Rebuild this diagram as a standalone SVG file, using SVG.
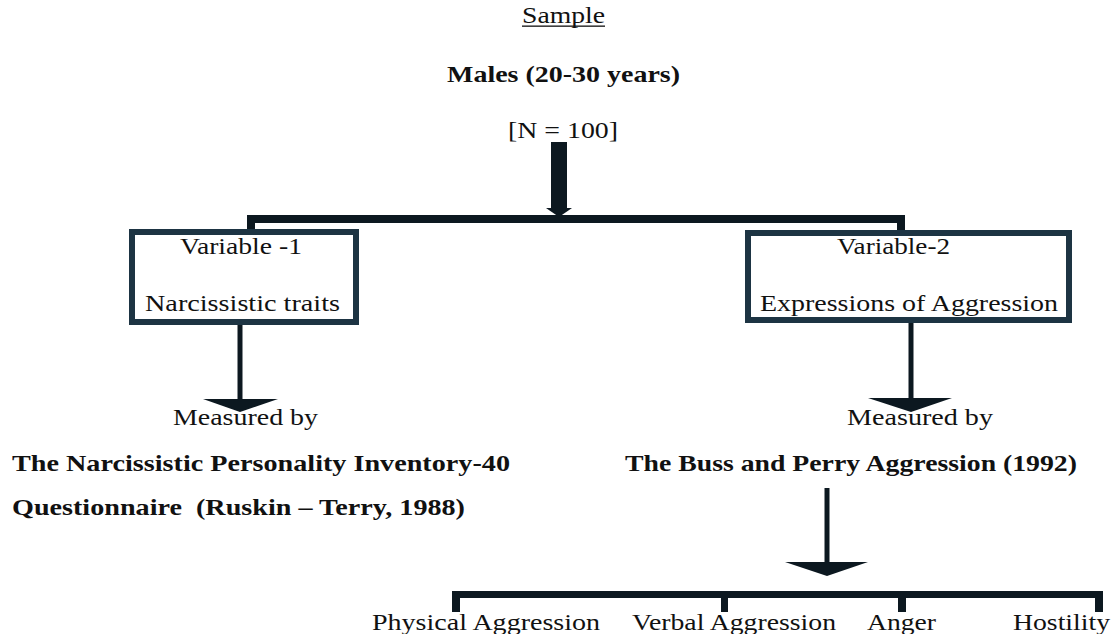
<svg xmlns="http://www.w3.org/2000/svg" width="1118" height="634" viewBox="0 0 1118 634">
  <defs>
    <style>
      text { font-family: 'Liberation Serif', 'Times New Roman', serif; font-size: 24px; fill: #111111; }
      .b { font-weight: bold; font-size: 23px; }
      .box { fill: #ffffff; stroke: #1d3443; stroke-width: 6; }
      .bar { fill: #0c1820; }
      .ln { stroke: #0c1820; stroke-width: 5; fill: none; }
      .head { fill: #0c1820; }
    </style>
  </defs>
  <rect x="0" y="0" width="1118" height="634" fill="#ffffff"/>

  <g id="sample">
    <text x="522" y="23" textLength="83" lengthAdjust="spacingAndGlyphs">Sample</text>
    <rect x="522" y="25.5" width="83" height="1.3" fill="#111111"/>
    <text class="b" x="447" y="82" textLength="233" lengthAdjust="spacingAndGlyphs">Males (20-30 years)</text>
    <text x="508" y="138" textLength="110" lengthAdjust="spacingAndGlyphs">[N = 100]</text>
  </g>

  <g id="connectors">
    <rect class="bar" x="551" y="142" width="16" height="67"/>
    <polygon class="head" points="546,208 572,208 559,217"/>
    <rect class="bar" x="247" y="215" width="658" height="8"/>
    <rect class="bar" x="247" y="215" width="8" height="16"/>
    <rect class="bar" x="897" y="215" width="8" height="16"/>
    <line class="ln" x1="240" y1="325" x2="240" y2="401"/>
    <polygon class="head" points="203,399 278,399 240,412"/>
    <line class="ln" x1="911" y1="323" x2="911" y2="400"/>
    <polygon class="head" points="868,398 952,398 911,412"/>
    <line class="ln" x1="827" y1="488" x2="827" y2="564"/>
    <polygon class="head" points="785,562 868,562 827,576"/>
    <rect class="bar" x="452" y="591" width="651" height="7"/>
    <rect class="bar" x="452" y="591" width="8" height="21"/>
    <rect class="bar" x="721" y="591" width="7" height="21"/>
    <rect class="bar" x="898" y="591" width="8" height="21"/>
    <rect class="bar" x="1095" y="591" width="8" height="21"/>
  </g>

  <g id="variable1">
    <rect class="box" x="132" y="232" width="224" height="90"/>
    <text x="180" y="254" textLength="122" lengthAdjust="spacingAndGlyphs">Variable -1</text>
    <text x="145" y="311" textLength="195" lengthAdjust="spacingAndGlyphs">Narcissistic traits</text>
  </g>

  <g id="variable2">
    <rect class="box" x="748" y="233" width="321" height="87"/>
    <text x="837" y="254" textLength="113" lengthAdjust="spacingAndGlyphs">Variable-2</text>
    <text x="760" y="311" textLength="298" lengthAdjust="spacingAndGlyphs">Expressions of Aggression</text>
  </g>

  <g id="measure1">
    <text x="173" y="425" textLength="145" lengthAdjust="spacingAndGlyphs">Measured by</text>
    <text class="b" x="12" y="471" textLength="498" lengthAdjust="spacingAndGlyphs">The Narcissistic Personality Inventory-40</text>
    <text class="b" x="12" y="515" textLength="453" lengthAdjust="spacingAndGlyphs" xml:space="preserve">Questionnaire  (Ruskin – Terry, 1988)</text>
  </g>

  <g id="measure2">
    <text x="847" y="425" textLength="146" lengthAdjust="spacingAndGlyphs">Measured by</text>
    <text class="b" x="625" y="471" textLength="452" lengthAdjust="spacingAndGlyphs">The Buss and Perry Aggression (1992)</text>
  </g>

  <g id="physical">
    <text x="372" y="630" textLength="228" lengthAdjust="spacingAndGlyphs">Physical Aggression</text>
  </g>
  <g id="verbal">
    <text x="632" y="630" textLength="204" lengthAdjust="spacingAndGlyphs">Verbal Aggression</text>
  </g>
  <g id="anger">
    <text x="867" y="630" textLength="69" lengthAdjust="spacingAndGlyphs">Anger</text>
  </g>
  <g id="hostility">
    <text x="1013" y="630" textLength="97" lengthAdjust="spacingAndGlyphs">Hostility</text>
  </g>
</svg>
